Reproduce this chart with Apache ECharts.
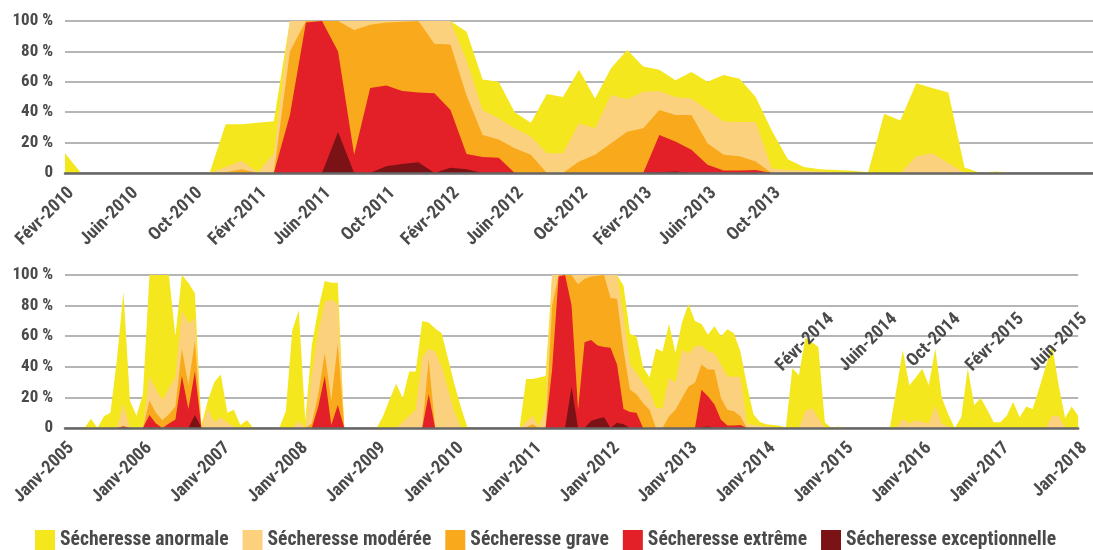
<!DOCTYPE html>
<html><head><meta charset="utf-8">
<script src="https://cdn.jsdelivr.net/npm/echarts@6/dist/echarts.min.js"></script>
<style>html,body{margin:0;padding:0;background:#fff}#c{width:1093px;height:550px}</style>
</head><body><div id="c"></div>
<script>
// ---- tick label pieces ----
const monthNames = ['Janv','Févr','Mars','Avr','Mai','Juin','Juil','Août','Sept','Oct','Nov','Déc'];
const firstYear = 2005;
const lastLabel = 'Jan-2018';
const zoomStart = 61;   // Févr-2010
const zoomEnd = 126;    // Juin-2015 (exclusive end)
const seriesNames = ['Sécheresse anormale','Sécheresse modérée','Sécheresse grave','Sécheresse extrême','Sécheresse exceptionnelle'];
const colors = ['#F4E71E','#FCD17E','#F9AA1C','#E31F28','#7A1216'];

// ---- monthly values (% of territory), Jan 2005 .. Jan 2018 ----
const anormale = [
  0,0,0,0,6,0,7.6,10,45,89,18,8,                 // 2005
  22,100,100,100,100,60,100,95,88,2,18,30,       // 2006
  35,10,12,2,5,0,0,0,0,0,11,64,                  // 2007
  77,5,54,78,96,95,95,0,0,0,0,0,                 // 2008
  0,8,19,29,19.5,37,37,70,69,65,62,45,           // 2009
  28,13,0,0,0,0,0,0,0,0,0,32,                    // 2010
  32,33,34,100,100,100,100,100,100,100,100,100,  // 2011
  100,100,93,61.5,60,40,33,52,50,68,49,69,       // 2012
  81,70,68,61,66.5,60,64.5,62,50,28,9,4,         // 2013
  2.5,2,1.5,0.5,39,34.5,59,56,53,3.7,0,1,        // 2014
  0,0,0,0,0,0,0,0,25,51,28,33,                   // 2015
  38.7,28,52,20,9,0,7,39,15,19.6,12,3.7,         // 2016
  3.7,8,17,7,14,12.5,26,40,54,28,6.5,14,         // 2017
  8                                              // 2018
];
const moderee = [
  0,0,0,0,0,0,0,0,0,16,0,0,
  1,34,25,18.5,26,33,77,68.5,71.7,0,12.5,4,
  7,3.5,1,0,0,0,0,0,0,0,0,0,
  4.5,0,35,63,82.6,84,81,0,0,0,0,0,
  0,0,0,0,4,8,12,46,52,50,40,25,
  10,0,0,0,0,0,0,0,0,0,0,4,
  8,0.5,13,100,100,100,100,100,100,100,100,100,
  100,100,74,41.5,36,29.5,24,13,13,32.7,29.5,51.3,
  48.5,53.4,54,50,49,41.5,33.8,33.5,33.5,3,2,1.5,
  1,0.5,0,0,0,0,11,13,6.5,0,0,0,
  0,0,0,0,0,0,0,0,0,6,3,5,
  4,3,14.5,3,1,0,0,0,0,0,0,0,
  0,0,0,0,0,0,0,0,8,8,0,0,
  0
];
const grave = [
  0,0,0,0,0,0,0,0,0,1.5,0,0,
  0,18,10,5,9,14,52,28,57,0,0,0,
  0,0,0,0,0,0,0,0,0,0,0,0,
  0,0,3,22,49,18,55,0,0,0,0,0,
  0,0,0,0,0,0,0,0,45,0,0,0,
  0,0,0,0,0,0,0,0,0,0,0,0.5,
  2.5,0,0,80,100,100,100,94,97.5,99,99.5,100,
  85,84.5,51,25,22,16.3,12,0,0,7.6,12,19.6,
  27.2,29.5,41.5,38.2,38.2,19.6,12,11,7.6,0,0,0,
  0,0,0,0,0,0,0,0,0,0,0,0,
  0,0,0,0,0,0,0,0,0,0,0,0,
  0,0,0,0,0,0,0,0,0,0,0,0,
  0,0,0,0,0,0,0,0,0,0,0,0,
  0
];
const extreme = [
  0,0,0,0,0,0,0,0,0,1,0,0,
  0,8.5,3,0,3,5.5,34,12.5,37,0,0,0,
  0,0,0,0,0,0,0,0,0,0,0,0,
  0,0,0,14,34,2,15,0,0,0,0,0,
  0,0,0,0,0,0,0,0,22,0,0,0,
  0,0,0,0,0,0,0,0,0,0,0,0,
  0,0,0,38,99,100,80,12,56,57.5,54,53,
  52.5,41.5,12.5,10.5,10,0,0,0,0,0,0,0,
  0,0,25,20.7,15.3,5.4,1.7,1.7,2,0,0,0,
  0,0,0,0,0,0,0,0,0,0,0,0,
  0,0,0,0,0,0,0,0,0,0,0,0,
  0,0,0,0,0,0,0,0,0,0,0,0,
  0,0,0,0,0,0,0,0,0,0,0,0,
  0
];
const exceptionnelle = [
  0,0,0,0,0,0,0,0,0,0,0,0,
  0,0,0,0,0,0,0,0,8.5,0,0,0,
  0,0,0,0,0,0,0,0,0,0,0,0,
  0,0,0,0,0,0,0,0,0,0,0,0,
  0,0,0,0,0,0,0,0,0,0,0,0,
  0,0,0,0,0,0,0,0,0,0,0,0,
  0,0,0,0,0,0,27,0,0,4.5,6,7,
  0,3.5,2.5,0,0,0,0,0,0,0,0,0,
  0,0,0.5,1,0,0,0,0,0,0,0,0,
  0,0,0,0,0,0,0,0,0,0,0,0,
  0,0,0,0,0,0,0,0,0,0,0,0,
  0,0,0,0,0,0,0,0,0,0,0,0,
  0,0,0,0,0,0,0,0,0,0,0,0,
  0
];

const allData = [anormale, moderee, grave, extreme, exceptionnelle];
const months = anormale.map((_, j) => monthNames[j % 12] + '-' + (firstYear + Math.floor(j / 12)));
months[months.length - 1] = lastLabel;
const topMonths = months.slice(zoomStart, zoomEnd);

const FONT = '"Roboto Condensed","Open Sans",sans-serif';
const TXT = '#4a4a4a';
const labelStyle = { fontFamily: FONT, fontWeight: 'bold', fontSize: 17, color: TXT };

function yAx(grid) {
  return {
    gridIndex: grid, type: 'value', min: 0, max: 100, interval: 20,
    axisLine: { show: false }, axisTick: { show: false },
    axisLabel: Object.assign({ margin: 12, formatter: v => v === 0 ? '0' : v + ' %' }, labelStyle),
    splitLine: { lineStyle: { color: '#9d9d9d', width: 1.5 } }
  };
}
function xAx(grid, data, intervalFn, showLine) {
  return {
    gridIndex: grid, type: 'category', data: data, boundaryGap: false, z: 5,
    axisLine: { show: showLine, onZero: false, lineStyle: { color: '#666666', width: 2.5 } },
    axisTick: { show: false },
    axisLabel: Object.assign({}, labelStyle, { interval: intervalFn, rotate: 45, margin: 11,
      verticalAlign: 'top', fontSize: 18, showMinLabel: true, showMaxLabel: true }),
    splitLine: { show: false }
  };
}
function mkSeries(grid, slicer) {
  return allData.map((d, k) => ({
    name: seriesNames[k], type: 'line', xAxisIndex: grid, yAxisIndex: grid,
    data: slicer(d), symbol: 'none', showSymbol: false, silent: true, animation: false,
    lineStyle: { width: 0, opacity: 0 },
    itemStyle: { color: colors[k] },
    areaStyle: { color: colors[k], opacity: 1 }
  }));
}

const chart = echarts.init(document.getElementById('c'), null, { renderer: 'canvas' });
chart.setOption({
  animation: false,
  backgroundColor: '#ffffff',
  grid: [
    { left: 65, right: 0, top: 21, height: 152 },
    { left: 65, right: 0, top: 275, height: 153 },
    { left: 65, right: 0, top: 200, height: 99 }
  ],
  xAxis: [
    xAx(0, topMonths, (i) => i % 4 === 0 && i <= 44, true),
    xAx(1, months, (i) => i % 12 === 0, true),
    xAx(2, topMonths, (i) => i % 4 === 0 && i >= 48, false)
  ],
  yAxis: [yAx(0), yAx(1), { gridIndex: 2, type: 'value', min: 0, max: 100, show: false }],
  legend: {
    data: seriesNames, left: 35, top: 530, padding: 0, itemGap: 14,
    itemWidth: 20, itemHeight: 21, icon: 'rect', selectedMode: false,
    textStyle: { fontFamily: FONT, fontWeight: 'bold', fontSize: 19.6, color: TXT }
  },
  series: mkSeries(0, d => d.slice(zoomStart, zoomEnd)).concat(mkSeries(1, d => d.slice()))
});
</script></body></html>
